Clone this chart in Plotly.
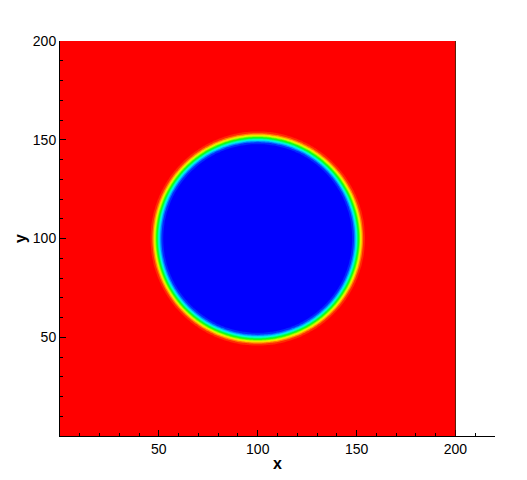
import numpy as np
import plotly.graph_objects as go

# Domain / drop parameters
x_grid = np.arange(0, 201, 1.0)
y_grid = np.arange(0, 201, 1.0)
drop_center = (100.0, 100.0)
drop_radius = 51.0
interface_width = 2.6
tick_vals = [50, 100, 150, 200]
tick_text = ["50", "100", "150", "200"]

X, Y = np.meshgrid(x_grid, y_grid)
r = np.sqrt((X - drop_center[0]) ** 2 + (Y - drop_center[1]) ** 2)
phi = 0.5 * (1 + np.tanh((r - drop_radius) / interface_width))

tecplot = [
    [0.0, "rgb(0,0,255)"],
    [0.25, "rgb(0,255,255)"],
    [0.5, "rgb(0,255,0)"],
    [0.75, "rgb(255,255,0)"],
    [1.0, "rgb(255,0,0)"],
]

fig = go.Figure(
    go.Contour(
        x=x_grid, y=y_grid, z=phi,
        colorscale=tecplot, zmin=0.08, zmax=0.92,
        contours=dict(start=0.08, end=0.92, size=0.07, coloring="fill", showlines=False),
        line=dict(width=0),
        showscale=False, hoverinfo="skip",
    )
)

fig.add_shape(type="line", x0=200, x1=200, y0=0, y1=200, xref="x", yref="y",
              line=dict(color="rgba(60,0,0,0.8)", width=1))

axis_common = dict(
    showgrid=False, zeroline=False, showline=True, linecolor="black", linewidth=1,
    ticks="inside", ticklen=6, tickwidth=1, tickcolor="black", automargin=False,
    tickvals=tick_vals, ticktext=tick_text,
    tickfont=dict(family="Liberation Sans, Arial", size=14, color="black"),
    minor=dict(ticks="inside", ticklen=3, tickwidth=1, tickcolor="black", dtick=10, tick0=0),
)

fig.update_layout(
    width=527, height=480,
    margin=dict(l=52, r=40, t=33, b=52),
    paper_bgcolor="white", plot_bgcolor="white",
    xaxis=dict(range=[0, 220], title=dict(text="<b>x</b>", standoff=2,
               font=dict(family="Liberation Sans, Arial", size=16, color="black")), **axis_common),
    yaxis=dict(range=[0, 200], title=dict(text="<b>y</b>", standoff=2,
               font=dict(family="Liberation Sans, Arial", size=16, color="black")), **axis_common),
)

fig.write_html("out.html")
